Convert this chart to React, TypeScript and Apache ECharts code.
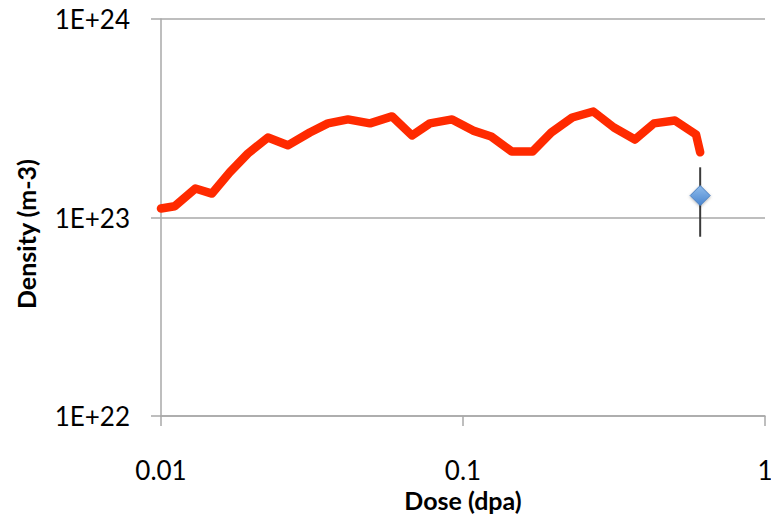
import React, { useEffect, useRef } from "react";
import * as echarts from "echarts";

// Simulated defect density along the dose path (log–log)
const doseDpa = [
  0.01, 0.0111, 0.013, 0.01475, 0.0169, 0.0194, 0.0226, 0.0263, 0.0311, 0.0357,
  0.0416, 0.0492, 0.0582, 0.0678, 0.0777, 0.092, 0.108, 0.124, 0.145, 0.17,
  0.196, 0.23, 0.27, 0.316, 0.371, 0.429, 0.503, 0.591, 0.61,
];
const densityM3 = [
  1.11e23, 1.14e23, 1.4e23, 1.32e23, 1.69e23, 2.1e23, 2.53e23, 2.31e23, 2.68e23, 2.98e23,
  3.12e23, 2.98e23, 3.23e23, 2.59e23, 2.98e23, 3.12e23, 2.74e23, 2.56e23, 2.15e23, 2.15e23,
  2.68e23, 3.19e23, 3.42e23, 2.84e23, 2.47e23, 2.98e23, 3.08e23, 2.62e23, 2.13e23,
];

// Experimental point with its error range
const measuredDose = [0.61];
const measuredDensity = [1.29e23];
const measuredLow = [8.0e22];
const measuredHigh = [1.79e23];

// Tick labels, one per decade
const xTickLabels = ["0.01", "0.1", "1"]; // 1e-2 .. 1e0
const yTickLabels = ["1E+22", "1E+23", "1E+24"]; // 1e22 .. 1e24

const FONT = "Lato, 'Open Sans', sans-serif";
const GRID_GREY = "#A9A9A9";

export default function App() {
  const ref = useRef<HTMLDivElement>(null);

  useEffect(() => {
    if (!ref.current) return;
    const chart = echarts.init(ref.current, undefined, { renderer: "svg" });

    const errorBars = measuredDose.map((d, i) => [
      [d, measuredLow[i]],
      [d, measuredHigh[i]],
    ]);

    chart.setOption({
      animation: false,
      backgroundColor: "#ffffff",
      grid: {
        left: 161,
        right: 6,
        top: 19,
        bottom: 103,
        containLabel: false,
        outerBoundsMode: "none",
      },
      xAxis: {
        type: "log",
        logBase: 10,
        min: 0.01,
        max: 1,
        name: "Dose (dpa)",
        nameLocation: "middle",
        nameGap: 64,
        nameTextStyle: { fontFamily: FONT, fontSize: 25, fontWeight: "bold", color: "#000" },
        axisLine: { lineStyle: { color: GRID_GREY, width: 1.5 } },
        axisTick: { show: true, length: 10, lineStyle: { color: GRID_GREY, width: 1.5 } },
        minorTick: { show: false },
        splitLine: { show: false },
        axisLabel: {
          margin: 41,
          fontFamily: FONT,
          fontSize: 26,
          color: "#000",
          formatter: (v: number) => xTickLabels[Math.round(Math.log10(v)) + 2] ?? "",
        },
      },
      yAxis: {
        type: "log",
        logBase: 10,
        min: 1e22,
        max: 1e24,
        axisLine: { show: true, lineStyle: { color: GRID_GREY, width: 1.5 } },
        axisTick: { show: true, length: 10, lineStyle: { color: GRID_GREY, width: 1.5 } },
        splitLine: { show: true, lineStyle: { color: GRID_GREY, width: 1.5 } },
        minorTick: { show: false },
        axisLabel: {
          margin: 31,
          fontFamily: FONT,
          fontSize: 26,
          color: "#000",
          padding: [4, 0, 0, 0],
          formatter: (v: number) => yTickLabels[Math.round(Math.log10(v)) - 22] ?? "",
        },
      },
      graphic: [
        {
          type: "text",
          x: 26,
          y: 234,
          rotation: Math.PI / 2,
          style: {
            text: "Density (m-3)",
            font: `bold 25px ${FONT}`,
            fill: "#000",
            align: "center",
            verticalAlign: "middle",
          },
        },
      ],
      series: [
        {
          type: "line",
          data: doseDpa.map((d, i) => [d, densityM3[i]]),
          showSymbol: false,
          symbol: "none",
          lineStyle: { color: "#FF2A00", width: 8.5, join: "round", cap: "round" },
          z: 2,
        },
        ...errorBars.map((seg) => ({
          type: "line",
          data: seg,
          symbol: "none",
          lineStyle: { color: "#3A3A3A", width: 2 },
          z: 3,
        })),
        {
          type: "scatter",
          data: measuredDose.map((d, i) => [d, measuredDensity[i]]),
          symbol: "diamond",
          symbolSize: [20, 20],
          itemStyle: {
            color: new echarts.graphic.LinearGradient(0, 0, 0, 1, [
              { offset: 0, color: "#8FBCEC" },
              { offset: 1, color: "#4A86CF" },
            ]),
            borderColor: "#4A7FC0",
            borderWidth: 1,
            opacity: 1,
            shadowColor: "rgba(0,0,0,0.3)",
            shadowBlur: 3,
            shadowOffsetY: 1,
          },
          emphasis: { disabled: true },
          z: 4,
        },
      ],
    });

    return () => chart.dispose();
  }, []);

  return (
    <div
      ref={ref}
      style={{ position: "fixed", left: 0, top: 0, width: 771, height: 519, background: "#fff" }}
    />
  );
}
